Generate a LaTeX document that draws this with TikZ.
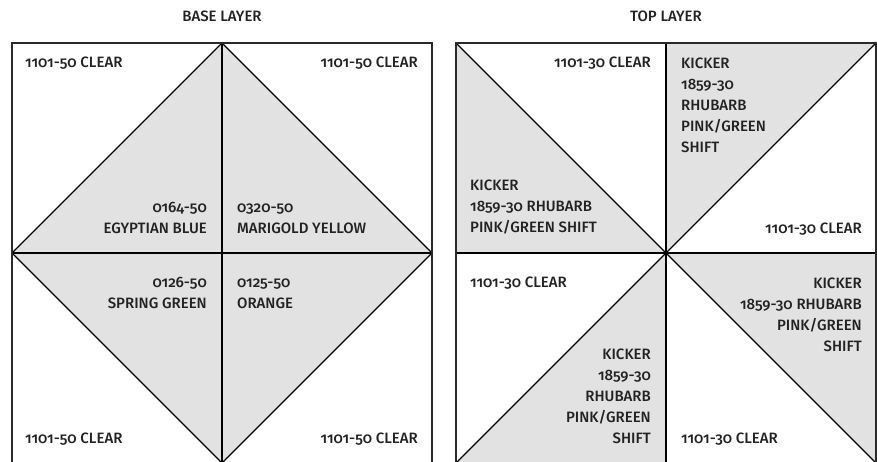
\documentclass[tikz,border=0pt]{standalone}
\usepackage{fontspec}
\setmainfont{Fira Sans}[UprightFont=* Medium, Numbers=OldStyle]
\definecolor{ink}{HTML}{222222}
\definecolor{shade}{HTML}{E2E2E2}
\definecolor{edge}{HTML}{2A2A2A}
\begin{document}
\begin{tikzpicture}[x=1pt,y=-1pt,
  lbl/.style={inner sep=0pt, font=\fontsize{15}{21}\selectfont, text=ink},
  lblL/.style={lbl, align=left, anchor=base west},
  lblR/.style={lbl, align=right, anchor=base east},
  ttl/.style={lbl, anchor=base},
  frame/.style={draw=edge, line width=1.4pt},
  cut/.style={draw=black, line width=1.3pt},
  fillc/.style={fill=shade}]
\useasboundingbox (0,0) rectangle (877,461);
\clip (0,0) rectangle (877,461);
% ---------- base layer ----------
\coordinate (Atl) at (12,43);
\coordinate (Atr) at (432,43);
\coordinate (Abl) at (12,463);
\coordinate (Abr) at (432,463);
\coordinate (Atm) at (222,43);
\coordinate (Abm) at (222,463);
\coordinate (Aml) at (12,253);
\coordinate (Amr) at (432,253);
\coordinate (Ac) at (222,253);
\fill[fillc] (Atm) -- (Amr) -- (Abm) -- (Aml) -- cycle;
\draw[cut] (Atm) -- (Abm);
\draw[cut] (Aml) -- (Amr);
\draw[cut] (Atm) -- (Amr) -- (Abm) -- (Aml) -- cycle;
\draw[frame] (Abl) -- (Atl) -- (Atr) -- (Abr);
% ---------- top layer ----------
\coordinate (Btl) at (456,43);
\coordinate (Btr) at (876,43);
\coordinate (Bbl) at (456,463);
\coordinate (Bbr) at (876,463);
\coordinate (Btm) at (666,43);
\coordinate (Bbm) at (666,463);
\coordinate (Bml) at (456,253);
\coordinate (Bmr) at (876,253);
\coordinate (Bc) at (666,253);
\fill[fillc] (Btl) -- (Bml) -- (Bc) -- cycle;
\fill[fillc] (Btm) -- (Btr) -- (Bc) -- cycle;
\fill[fillc] (Bc) -- (Bmr) -- (Bbr) -- cycle;
\fill[fillc] (Bc) -- (Bbm) -- (Bbl) -- cycle;
\draw[cut] (Btm) -- (Bbm);
\draw[cut] (Bml) -- (Bmr);
\draw[cut] (Btl) -- (Bbr);
\draw[cut] (Btr) -- (Bbl);
\draw[frame] (Bbl) -- (Btl) -- (Btr) -- (Bbr);
% ---------- titles ----------
\node[ttl] (t1) at (222,21) {BASE LAYER};
\node[ttl] (t2) at (666,21) {TOP LAYER};
% ---------- base labels (anchor = baseline of last line) ----------
\node[lblL] (a1) at (25,67) {1101-50 CLEAR};
\node[lblR] (a2) at (418,67) {1101-50 CLEAR};
\node[lblR] (a3) at (207,233) {0164-50\\EGYPTIAN BLUE};
\node[lblL] (a4) at (237,233) {0320-50\\MARIGOLD YELLOW};
\node[lblR] (a5) at (207,308) {0126-50\\SPRING GREEN};
\node[lblL] (a6) at (237,308) {0125-50\\ORANGE};
\node[lblL] (a7) at (25,443) {1101-50 CLEAR};
\node[lblR] (a8) at (418,443) {1101-50 CLEAR};
% ---------- top labels ----------
\node[lblR] (b1) at (651,67) {1101-30 CLEAR};
\node[lblL] (b2) at (470,232) {KICKER\\1859-30 RHUBARB\\PINK/GREEN SHIFT};
\node[lblL] (b3) at (681,152) {KICKER\\1859-30\\RHUBARB\\PINK/GREEN\\SHIFT};
\node[lblR] (b4) at (862,233) {1101-30 CLEAR};
\node[lblL] (b5) at (470,287) {1101-30 CLEAR};
\node[lblR] (b6) at (862,351) {KICKER\\1859-30 RHUBARB\\PINK/GREEN\\SHIFT};
\node[lblR] (b7) at (651,443) {KICKER\\1859-30\\RHUBARB\\PINK/GREEN\\SHIFT};
\node[lblL] (b8) at (681,443) {1101-30 CLEAR};
\end{tikzpicture}
\end{document}
